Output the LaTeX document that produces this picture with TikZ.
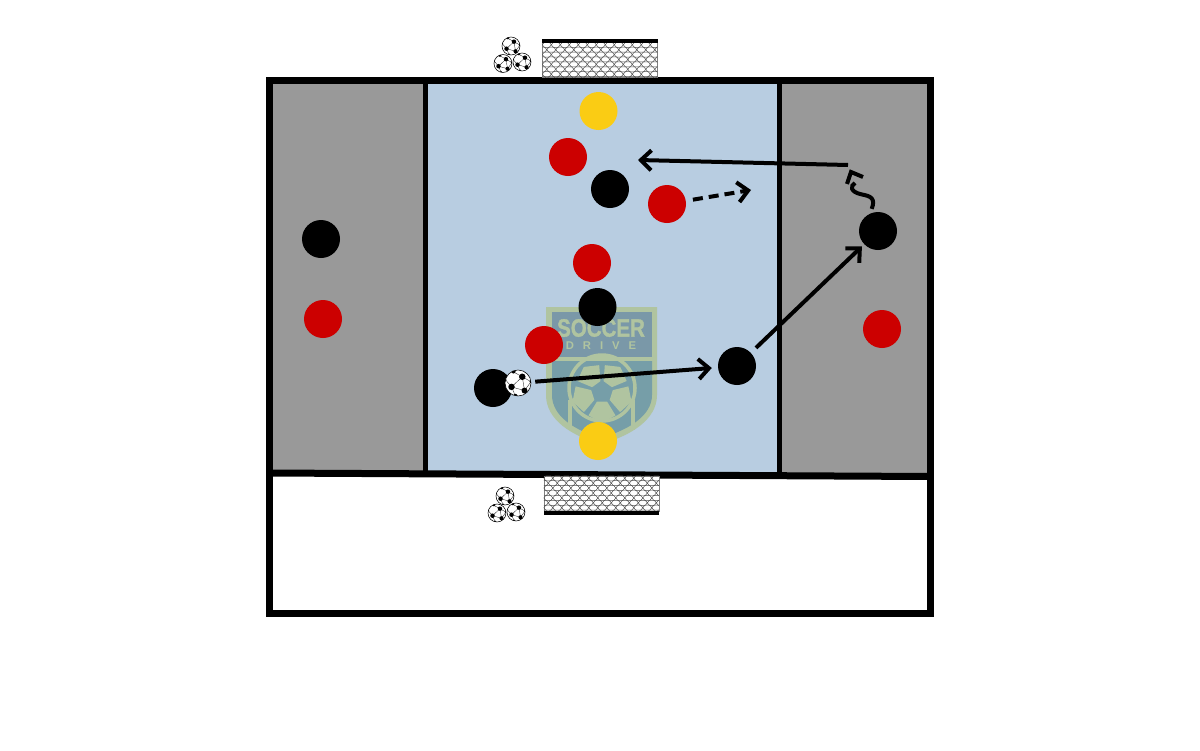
\documentclass[tikz,border=0pt]{standalone}
\usepackage{xcolor}
\usepackage{fontspec}
\setsansfont{Liberation Sans}
\usetikzlibrary{arrows.meta, positioning, calc}
\definecolor{pitchgrey}{RGB}{153,153,153}
\definecolor{pitchblue}{RGB}{184,205,225}
\definecolor{teamred}{RGB}{204,0,0}
\definecolor{keeperyellow}{RGB}{250,204,20}
\definecolor{logogreen}{RGB}{176,196,160}
\definecolor{logoslate}{RGB}{122,152,168}
\definecolor{logoteal}{RGB}{118,158,168}
\def\pxu{0.025cm}

\begin{document}
\begin{tikzpicture}[
  x=0.025cm, y=-0.025cm,
  player/.style={circle, inner sep=0pt, minimum size=38*\pxu},
  blackplayer/.style={player, fill=black},
  redplayer/.style={player, fill=teamred},
  keeper/.style={player, fill=keeperyellow},
  football/.style={circle, draw=black, line width=0.4pt, fill=white, inner sep=0pt, minimum size=2*#1*\pxu},
  ballface/.pic={
    \clip (0,0) circle (1);
    \foreach \bx/\by/\br in {0.33/-0.48/0.25, -0.5/0.3/0.25, 0.5/0.58/0.23, -0.35/-0.9/0.17,
                             -0.2/1/0.17, 1/-0.1/0.13, -1/-0.3/0.12}
      \fill[black] (\bx,\by) circle (\br);
    \draw[black, line width=0.2pt] (0.33,-0.48) -- (-0.5,0.3) -- (-0.2,1) (0.33,-0.48) -- (0.5,0.58) -- (-0.5,0.3)
      (0.33,-0.48) -- (-0.35,-0.85) (0.33,-0.48) -- (1,-0.1) -- (0.5,0.58) (-0.5,0.3) -- (-1,-0.3);
  },
  netmesh/.pic={
    \clip (0,0) rectangle (115,35);
    \foreach \j in {0,...,7}
      \foreach \i in {-1,...,13}
        \draw[black!70, line width=0.35pt, shift={({\i*9+mod(\j,2)*4.5},{\j*4.9})}]
          (0,2.5) -- (2,0) -- (7,0) -- (9,2.5) -- (7,5) -- (2,5) -- cycle;
  },
  netbox/.style={rectangle, draw=gray, line width=0.3pt, fill=white, inner sep=0pt,
    minimum width=115*\pxu, minimum height=35*\pxu},
  netbar/.style={fill=black},
  frameline/.style={draw=black, line width=7*\pxu},
  divider/.style={draw=black, line width=4.5*\pxu},
  run/.style={-{Straight Barb[length=0.26cm, width=0.5cm]}, line width=4*\pxu, black},
  logoline/.style={draw=logogreen, line width=3.5*\pxu},
]
  \useasboundingbox (0,0) rectangle (1200,750);

  % pitch areas
  \fill[pitchgrey] (269,80) rectangle (426,473);
  \fill[pitchblue] (426,80) rectangle (780,474);
  \fill[pitchgrey] (780,80) rectangle (930,476);

  % logo
  \path[fill=logogreen] (546,307) -- (657,307) -- (657,395) .. controls (657,420) and (630,436) .. (601,444)
    .. controls (572,436) and (546,420) .. (546,395) -- cycle;
  \fill[logoslate] (552,312) rectangle (652,357);
  \path[fill=logoteal] (552,361) -- (652,361) -- (652,395) .. controls (652,416) and (628,430) .. (601,438)
    .. controls (574,430) and (552,416) .. (552,395) -- cycle;
  \draw[logoline] (602,388) circle (33);
  \draw[logoline] (570,400) -- (570,430);
  \draw[logoline] (633,400) -- (633,430);
  \foreach \a in {-126,-54,18,90,162}
    \fill[logogreen] ($(602,392)+(\a-28:11)$) -- ($(602,392)+(\a-30:27)$) -- ($(602,392)+(\a:31)$)
      -- ($(602,392)+(\a+30:27)$) -- ($(602,392)+(\a+28:11)$) -- cycle;
  \node[font=\sffamily\bfseries, text=logogreen, xscale=0.82, inner sep=0pt] (logotitle) at (601,328) {\fontsize{17.8}{18}\selectfont\addfontfeature{FakeBold=1.5}SOCCER};
  \node[font=\sffamily\bfseries, text=logogreen, inner sep=0pt] (logosub) at (601,345.5) {\fontsize{8}{8}\selectfont\addfontfeature{LetterSpace=80}DRIVE};

  % lines of the pitch
  \draw[frameline] (269,80) rectangle (930.5,613.5);
  \draw[frameline] (269,473) -- (930.5,476.5);
  \draw[divider] (425.5,80) -- (425.5,473);
  \draw[divider] (779.5,80) -- (779.5,475);

  % goals
  \node[netbox] (topnet) at (600,60) {};
  \pic at (topnet.north west) {netmesh};
  \fill[netbar] (542,39) rectangle (658,43);
  \node[netbox] (bottomnet) at (601.5,493.5) {};
  \pic at (bottomnet.north west) {netmesh};
  \fill[netbar] (544,511) rectangle (659,514.5);

  % spare balls
  \foreach \ballname/\bx/\by in {topballa/511/46, topballb/503/63.5, topballc/522/62,
                                 bottomballa/505/496, bottomballb/497/513, bottomballc/516/512} {
    \node[football=9] (\ballname) at (\bx,\by) {};
    \pic[scale=9] at (\ballname) {ballface};
  }

  % players
  \node[keeper] (keepertop) at (598.5,111) {};
  \node[keeper] (keeperbottom) at (598,441) {};
  \node[redplayer] (redtop) at (568,157) {};
  \node[redplayer] (redrun) at (667,204) {};
  \node[redplayer] (redmid) at (592,263) {};
  \node[redplayer] (redlow) at (544,345) {};
  \node[redplayer] (redleft) at (323,319) {};
  \node[redplayer] (redright) at (882,329) {};
  \node[blackplayer] (blacktop) at (610,189) {};
  \node[blackplayer] (blackmid) at (597.5,307) {};
  \node[blackplayer] (blackleft) at (321,239) {};
  \node[blackplayer] (passer) at (493,388) {};
  \node[blackplayer] (receiver) at (737,366) {};
  \node[blackplayer] (winger) at (878,231) {};
  \node[football=13] (ball) at (518,383) {};
  \pic[scale=13] at (ball) {ballface};

  % free ends
  \coordinate (crossstart) at (848,165);
  \coordinate (crossend) at (638,160);
  \coordinate (dribbleend) at (855,183);
  \coordinate (dribbleleft) at (847,184);
  \coordinate (dribbletip) at (851,172);
  \coordinate (dribbleright) at (863,177);
  \coordinate (runend) at (751,190);

  % movement
  \draw[run, shorten <=4*\pxu, shorten >=6*\pxu] (ball) -- (receiver);
  \draw[run, shorten <=7*\pxu, shorten >=3*\pxu] (receiver) -- (winger);
  \draw[run] (crossstart) -- (crossend);
  \draw[run, dash pattern=on 10*\pxu off 6*\pxu, shorten <=7*\pxu] (redrun) -- (runend);
  \draw[line width=4*\pxu, shorten <=5*\pxu] (winger.115) .. controls (876,198) and (870,196) .. (862,194.5)
    .. controls (850,192) and (850,186) .. (dribbleend);
  \draw[line width=4*\pxu] (dribbleleft) -- (dribbletip) -- (dribbleright);
\end{tikzpicture}
\end{document}
